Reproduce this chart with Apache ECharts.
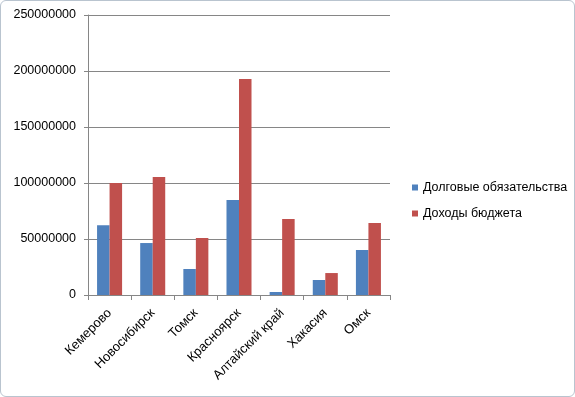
<!DOCTYPE html>
<html>
<head>
<meta charset="utf-8">
<script src="https://cdn.jsdelivr.net/npm/echarts@6/dist/echarts.min.js"></script>
<style>
html, body { margin: 0; padding: 0; background: #fff; }
#chart { width: 575px; height: 397px; box-sizing: border-box; border: 1px solid #b9c4cf; border-radius: 6px; }
</style>
</head>
<body>
<div id="chart"></div>
<script>
const categories = ['Кемерово', 'Новосибирск', 'Томск', 'Красноярск', 'Алтайский край', 'Хакасия', 'Омск']
const debt = [62200000, 46400000, 23200000, 84800000, 2700000, 13400000, 40200000]
const income = [100000000, 105400000, 50900000, 192900000, 67900000, 19600000, 64300000]
const seriesNames = ['Долговые обязательства', 'Доходы бюджета']

const font = 'Liberation Sans'
const chart = echarts.init(document.getElementById('chart'))
chart.setOption({
	animation: false,
	textStyle: { fontFamily: font },
	grid: { left: 87, right: 184, top: 14, bottom: 101 },
	legend: {
		orient: 'vertical',
		left: 406,
		top: 175,
		itemWidth: 6,
		itemHeight: 6,
		itemGap: 13,
		icon: 'rect',
		textStyle: { fontSize: 12.5, color: '#000', fontFamily: font },
		data: seriesNames,
	},
	xAxis: {
		type: 'category',
		data: categories,
		axisLine: { lineStyle: { color: '#868686' } },
		axisTick: { show: true, length: 5, alignWithLabel: false, lineStyle: { color: '#868686' } },
		axisLabel: { rotate: 45, fontSize: 13, color: '#000', margin: 16, interval: 0, padding: [0, 0, 8, 0] },
	},
	yAxis: {
		type: 'value',
		min: 0,
		max: 250000000,
		interval: 50000000,
		axisLine: { show: true, lineStyle: { color: '#868686' } },
		axisTick: { show: true, length: 4, lineStyle: { color: '#868686' } },
		axisLabel: { fontSize: 12.5, color: '#000', margin: 12, formatter: v => String(v) },
		splitLine: { lineStyle: { color: '#868686' } },
	},
	series: [
		{ name: seriesNames[0], type: 'bar', data: debt, itemStyle: { color: '#4F81BD' }, barGap: '0%', barCategoryGap: '42%' },
		{ name: seriesNames[1], type: 'bar', data: income, itemStyle: { color: '#C0504D' }, barGap: '0%', barCategoryGap: '42%' },
	],
})
</script>
</body>
</html>
